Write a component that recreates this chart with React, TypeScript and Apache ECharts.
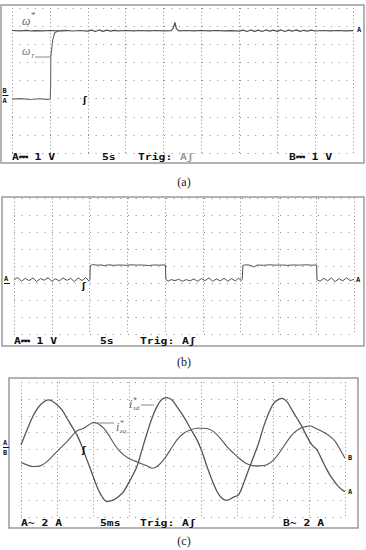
import React, { useEffect, useRef } from "react";
import * as echarts from "echarts";

// ---- (a) speed reference ω* and rotor speed ωr  (time s, volts) ----
const omegaRefA: number[][] = [
  [0, 2.76], [1, 2.74], [2, 2.77], [2.5, 2.73], [3, 2.75], [4, 2.74], [5, 2.76], [6, 2.74], [7, 2.77],
  [8, 2.73], [9, 2.76], [10, 2.72], [10.5, 2.78], [11, 2.7], [11.5, 2.79], [12, 2.71], [12.5, 2.78],
  [13, 2.72], [13.5, 2.77], [14, 2.74], [15, 2.76], [16, 2.74], [17, 2.76], [18, 2.74], [19, 2.76],
  [20, 2.74], [21, 2.75], [21.3, 2.9], [21.5, 3.2], [21.7, 2.85], [22, 2.74], [23, 2.76], [24, 2.74],
  [25, 2.76], [26, 2.74], [27, 2.76], [28, 2.74], [29, 2.75], [30, 2.72], [30.5, 2.78], [31, 2.7],
  [31.5, 2.79], [32, 2.71], [32.5, 2.78], [33, 2.7], [33.5, 2.79], [34, 2.72], [34.5, 2.78], [35, 2.71],
  [35.5, 2.79], [36, 2.7], [36.5, 2.78], [37, 2.72], [37.5, 2.79], [38, 2.71], [38.5, 2.77], [39, 2.72],
  [39.5, 2.78], [40, 2.73], [41, 2.76], [42, 2.74], [43, 2.76], [44, 2.74], [45, 2.75],
];
const omegaRotorA: number[][] = [
  [0, -1.03], [1.2, -1.0], [2.4, -1.05], [3.6, -1.01], [4.6, -1.04], [5.05, -1.03], [5.1, -0.2],
  [5.12, 1.29], [5.37, 2.23], [5.63, 2.62], [6.03, 2.73], [7, 2.75],
];

// ---- (b) speed signal, square steps (time s, volts) ----
const speedB: number[][] = [
  [0, -0.8], [0.5, -0.68], [1, -0.9], [1.5, -0.72], [2, -0.86], [2.5, -0.7], [3, -0.92], [3.5, -0.74],
  [4, -0.84], [4.5, -0.68], [5, -0.9], [5.5, -0.75], [6, -0.88], [6.5, -0.7], [7, -0.85], [7.5, -0.72],
  [8, -0.93], [8.5, -0.7], [9, -0.86], [9.5, -0.68], [9.9, -0.88],
  [10.05, -0.8], [10.1, 0.02], [10.4, 0.08], [11, 0.05], [11.5, 0.06], [12, 0.03], [12.6, 0.07],
  [13.2, 0.04], [14, 0.06], [14.8, 0.04], [15.5, 0.07], [16.2, 0.05], [17, 0.06], [17.8, 0.03],
  [18.5, 0.06], [19.2, 0.05], [20.05, 0.06],
  [20.1, -0.78], [20.4, -0.9], [20.8, -0.8], [21.3, -0.86], [21.8, -0.78], [22.3, -0.9], [22.8, -0.8],
  [23.3, -0.88], [23.8, -0.76], [24.3, -0.9], [24.8, -0.74], [25.3, -0.86], [25.8, -0.7], [26.3, -0.9],
  [26.8, -0.76], [27.3, -0.88], [27.8, -0.72], [28.3, -0.9], [28.8, -0.74], [29.3, -0.88], [29.7, -0.72],
  [30.1, -0.85],
  [30.2, -0.8], [30.3, 0.03], [30.6, 0.07], [31.2, 0.05], [31.8, -0.05], [32.2, 0.06], [33, 0.04],
  [33.8, 0.07], [34.6, 0.05], [35.4, 0.06], [36.2, 0.04], [37, 0.06], [37.8, 0.05], [38.6, 0.07],
  [39.4, 0.05], [40.05, 0.06],
  [40.1, -0.8], [40.5, -0.9], [41, -0.72], [41.5, -0.88], [42, -0.7], [42.5, -0.92], [43, -0.74],
  [43.5, -0.88], [44, -0.7], [44.5, -0.86], [45, -0.78],
];

// ---- (c) currents i*sd and i*sq (time ms, amperes) ----
const isdC: number[][] = [
  [0, 0.54], [0.83, 2.32], [1.75, 4.09], [2.68, 5.28], [3.84, 5.87], [4.76, 5.48], [5.69, 4.69],
  [6.38, 3.7], [7.08, 2.71], [7.77, 1.73], [8.47, 0.35], [9.16, -1.23], [9.86, -2.81], [10.55, -4.39],
  [11.25, -5.57], [11.94, -6.16], [12.87, -5.96], [13.56, -5.57], [14.25, -4.98], [15.18, -3.6],
  [16.1, -2.02], [16.8, -0.05], [17.5, 1.93], [18.19, 3.7], [18.88, 5.08], [19.58, 5.95], [20.27, 6.15],
  [20.97, 5.87], [21.66, 5.08], [22.59, 3.9], [23.51, 2.52], [24.44, 1.14], [25.13, -0.24], [25.83, -2.02],
  [26.52, -3.6], [27.22, -4.98], [27.91, -5.77], [28.6, -6.04], [29.53, -5.65], [30.22, -5.37],
  [30.92, -4.0], [31.61, -2.41], [32.31, -0.84], [33.0, 0.74], [33.7, 2.71], [34.39, 4.29], [35.09, 5.48],
  [35.78, 5.95], [36.25, 6.07], [36.94, 5.67], [37.63, 4.69], [38.33, 3.7], [39.02, 2.71], [39.72, 1.53],
  [40.41, 0.54], [41.11, -0.05], [41.8, -1.23], [42.5, -2.41], [43.19, -3.4], [43.88, -4.19],
  [44.58, -4.77], [45, -4.98],
];
const isqC: number[][] = [
  [0, -1.55], [0.83, -1.82], [1.75, -2.02], [2.68, -1.94], [3.61, -1.43], [4.53, -0.64], [5.46, 0.15],
  [6.38, 0.94], [7.77, 2.2], [8.7, 2.52], [9.39, 2.91], [10.09, 3.19], [10.78, 3.03], [11.48, 2.52],
  [12.17, 1.73], [12.87, 0.74], [13.56, -0.05], [14.25, -0.64], [14.95, -1.03], [15.64, -1.31],
  [16.57, -1.63], [17.5, -1.94], [18.19, -2.22], [18.88, -2.02], [19.81, -1.23], [20.73, -0.05],
  [21.66, 1.14], [22.59, 1.93], [23.51, 2.32], [24.44, 2.52], [25.36, 2.52], [26.06, 2.44], [26.75, 2.12],
  [27.68, 1.33], [28.6, 0.35], [29.53, -0.44], [30.46, -1.15], [31.38, -1.7], [32.31, -1.94],
  [33.23, -1.94], [34.15, -1.82], [35.09, -1.23], [36.01, -0.24], [36.94, 0.94], [37.86, 1.93],
  [38.79, 2.52], [39.49, 2.71], [40.18, 2.79], [40.87, 2.52], [41.57, 2.24], [42.27, 1.93], [42.96, 1.53],
  [43.66, 0.94], [44.35, -0.05], [45, -1.03],
];

// scope status-line texts
const statusA = ["A\u2393 1 V", "5s", "Trig:", "A\u0283", "B\u2393 1 V"];
const statusB = ["A\u2393 1 V", "5s", "Trig:", "A\u0283"];
const statusC = ["A~ 2 A", "5ms", "Trig:", "A\u0283", "B~ 2 A"];
const captions = ["(a)", "(b)", "(c)"];

const TRACE = "#505050";
const DOT = "#8c8c8c";
const BORDER = "#9a9a9a";

const scopeFont = 'bold 9px "DejaVu Sans Mono"';
const markFont = 'bold 7px "DejaVu Sans Mono"';
const serifItalic = 'italic 12px "Liberation Serif"';

function txt(text: string, x: number, y: number, font: string, fill = "#111", extra: any = {}) {
  return {
    type: "text",
    x,
    y,
    silent: true,
    z: 10,
    ...extra,
    style: { text, font, fill, textAlign: "left", textVerticalAlign: "middle" },
  };
}
function status(text: string, x: number, y: number, fill = "#111") {
  return txt(text, x, y, scopeFont, fill, { scaleX: 1.27 });
}
function seg(x1: number, y1: number, x2: number, y2: number, stroke = "#777", w = 1) {
  return { type: "line", silent: true, z: 10, shape: { x1, y1, x2, y2 }, style: { stroke, lineWidth: w } };
}
function box(x: number, y: number, w: number, h: number) {
  return { type: "rect", silent: true, z: 1, shape: { x, y, width: w, height: h }, style: { fill: "none", stroke: BORDER, lineWidth: 1.5 } };
}
function caption(text: string, y: number) {
  return { type: "text", x: 184, y, silent: true, style: { text, font: '12px "Liberation Serif"', fill: "#222", textAlign: "center", textVerticalAlign: "middle" } };
}

function xAx(gridIndex: number) {
  return {
    type: "value", gridIndex, min: 0, max: 45, interval: 5,
    axisLine: { show: false }, axisTick: { show: false }, axisLabel: { show: false },
    splitLine: { show: true, lineStyle: { color: DOT, width: 1, type: [1, 2.6] } },
  };
}
function yAx(gridIndex: number, lim: number, interval: number) {
  return {
    type: "value", gridIndex, min: -lim, max: lim, interval,
    axisLine: { show: false }, axisTick: { show: false }, axisLabel: { show: false },
    splitLine: { show: true, lineStyle: { color: DOT, width: 1, type: [1, 6.6] } },
  };
}
function trace(data: number[][], idx: number, width = 1.1, smooth: any = false, color = TRACE) {
  return {
    type: "line", xAxisIndex: idx, yAxisIndex: idx, data, showSymbol: false, smooth,
    lineStyle: { color, width }, silent: true, z: 5,
  };
}

export default function App() {
  const ref = useRef<HTMLDivElement>(null);
  useEffect(() => {
    const chart = echarts.init(ref.current!, null, { renderer: "svg" });
    const option: any = {
      animation: false,
      backgroundColor: "#fff",
      grid: [
        { left: 12, top: 8, width: 341, height: 145, outerBoundsMode: "none" },
        { left: 14, top: 198, width: 340, height: 136, outerBoundsMode: "none" },
        { left: 21, top: 382, width: 324, height: 135, outerBoundsMode: "none" },
      ],
      xAxis: [xAx(0), xAx(1), xAx(2)],
      yAxis: [yAx(0, 4, 1), yAx(1, 4, 1), yAx(2, 8, 2)],
      series: [
        trace(omegaRefA, 0, 1.2),
        trace(omegaRotorA, 0, 1.1, false, "#6a6a6a"),
        trace(speedB, 1, 1.0),
        trace(isdC, 2, 1.3, 0.35, "#555"),
        trace(isqC, 2, 1.1, 0.35, "#555"),
      ],
      graphic: [
        box(1, 5, 363, 158),
        box(2, 197, 362, 149),
        box(9, 378, 349, 150),
        // status lines
        status(statusA[0], 12, 157), status(statusA[1], 102, 157), status(statusA[2], 138, 157),
        status(statusA[3], 180, 157, "#9a9a9a"), status(statusA[4], 289, 157),
        status(statusB[0], 14, 341), status(statusB[1], 100, 341), status(statusB[2], 140, 341),
        status(statusB[3], 182, 341),
        status(statusC[0], 21, 523), status(statusC[1], 100, 523), status(statusC[2], 140, 523),
        status(statusC[3], 182, 523), status(statusC[4], 283, 523),
        // captions
        caption(captions[0], 182),
        caption(captions[1], 362),
        caption(captions[2], 541),
        // channel markers (a)
        txt("B", 2.5, 91, markFont), seg(2.5, 95.5, 8.5, 95.5, "#111", 1), txt("A", 2.5, 101, markFont),
        txt("A", 357, 30, markFont),
        txt("\u0283", 83, 100, 'bold 9px "DejaVu Sans"'),
        // channel markers (b)
        txt("A", 4, 279, markFont), seg(4, 283.5, 10, 283.5, "#111", 1),
        txt("A", 356, 280, markFont),
        txt("\u0283", 82, 286, 'bold 9px "DejaVu Sans"'),
        // channel markers (c)
        txt("A", 3, 443, markFont), seg(3, 447.5, 9, 447.5, "#111", 1), txt("B", 3, 453, markFont),
        txt("B", 348, 458, markFont), txt("A", 348, 492, markFont),
        txt("\u0283", 82, 450, 'bold 9px "DejaVu Sans"'),
        // trace labels (a)
        txt("\u03c9", 22, 21, serifItalic, "#666"), txt("*", 31, 15, '9px "Liberation Serif"', "#666"),
        txt("\u03c9", 22, 51, serifItalic, "#777"), txt("r", 31.5, 55, 'italic 8px "Liberation Serif"', "#777"),
        seg(35, 57, 50, 57, "#888", 1),
        // trace labels (c)
        txt("i", 129, 404, serifItalic, "#666"), txt("*", 133, 400, '8px "Liberation Serif"', "#666"),
        txt("sd", 133, 408, 'italic 7px "Liberation Serif"', "#666"),
        seg(141, 405, 154, 405, "#888", 1),
        txt("i", 116, 427, serifItalic, "#666"), txt("*", 120, 423, '8px "Liberation Serif"', "#666"),
        txt("sq", 120, 431, 'italic 7px "Liberation Serif"', "#666"),
        seg(96, 423, 114, 423, "#888", 1),
      ],
    };
    chart.setOption(option);
    return () => chart.dispose();
  }, []);
  return (
    <div
      ref={ref}
      style={{ position: "absolute", left: 0, top: 0, width: 366, height: 550, background: "#fff" }}
    />
  );
}
